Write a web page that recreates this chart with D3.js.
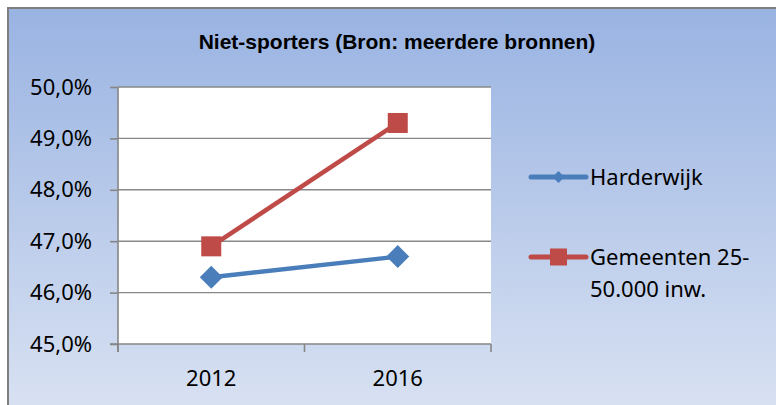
<!DOCTYPE html>
<html>
<head>
<meta charset="utf-8">
<script src="https://cdn.jsdelivr.net/npm/d3@7"></script>
<style>
  body { margin: 0; background: #fff; }
</style>
</head>
<body>
<div id="chart"></div>
<script>
(function() {
  var W = 776, H = 405;

  // data
  var years = ["2012", "2016"];
  var harderwijk = [0.463, 0.467];
  var gemeenten = [0.469, 0.493];
  var yTicks = [0.45, 0.46, 0.47, 0.48, 0.49, 0.50];
  var seriesNames = ["Harderwijk", "Gemeenten 25-|50.000 inw."];
  var seriesColors = ["#4a7ebb", "#be4b48"];

  var series = [
    { name: seriesNames[0], values: harderwijk, color: seriesColors[0], marker: "diamond" },
    { name: seriesNames[1], values: gemeenten, color: seriesColors[1], marker: "square" }
  ];

  var plot = { left: 118, right: 491, top: 87, bottom: 344 };

  var nl = d3.formatLocale({ decimal: ",", thousands: ".", grouping: [3], currency: ["€", ""] });
  var pct = nl.format(".1%");

  var svg = d3.select("#chart")
    .append("svg")
    .attr("width", W)
    .attr("height", H)
    .style("display", "block");

  var defs = svg.append("defs");
  var grad = defs.append("linearGradient")
    .attr("id", "bg")
    .attr("x1", 0).attr("y1", 0).attr("x2", 0).attr("y2", 1);
  grad.append("stop").attr("offset", "0%").attr("stop-color", "#99b3e2");
  grad.append("stop").attr("offset", "100%").attr("stop-color", "#dce4f3");

  // chart frame
  svg.append("rect")
    .attr("x", 8).attr("y", 8)
    .attr("width", W + 20).attr("height", H + 20)
    .attr("fill", "url(#bg)")
    .attr("stroke", "#7f7f7f")
    .attr("stroke-width", 2);

  // title
  svg.append("text")
    .attr("x", 397)
    .attr("y", 49)
    .attr("text-anchor", "middle")
    .style("font-family", "Liberation Sans, Arial, sans-serif")
    .style("font-weight", "bold")
    .style("font-size", "21px")
    .style("fill", "#000")
    .text("Niet-sporters (Bron: meerdere bronnen)");

  var x = d3.scaleBand().domain(years).range([plot.left, plot.right]).padding(0);
  var y = d3.scaleLinear().domain([0.45, 0.50]).range([plot.bottom, plot.top]);

  // plot area
  svg.append("rect")
    .attr("x", plot.left).attr("y", plot.top)
    .attr("width", plot.right - plot.left)
    .attr("height", plot.bottom - plot.top)
    .attr("fill", "#fff");

  // gridlines
  svg.append("g")
    .selectAll("line")
    .data(yTicks.slice(1))
    .enter().append("line")
    .attr("x1", plot.left).attr("x2", plot.right)
    .attr("y1", function(d) { return y(d); })
    .attr("y2", function(d) { return y(d); })
    .attr("stroke", "#888")
    .attr("stroke-width", 1.4);

  // y axis
  var yAxis = d3.axisLeft(y)
    .tickValues(yTicks)
    .tickFormat(pct)
    .tickSize(8)
    .tickPadding(18);
  var gy = svg.append("g")
    .attr("transform", "translate(" + plot.left + ",0)")
    .call(yAxis);
  gy.select(".domain").attr("stroke", "#868686").attr("stroke-width", 1.6)
    .attr("d", "M0," + plot.top + "V" + (plot.bottom + 8));
  gy.selectAll(".tick line").attr("stroke", "#868686").attr("stroke-width", 1.6);
  gy.selectAll("text")
    .style("font-family", "Noto Sans")
    .style("font-size", "22px")
    .style("fill", "#000");

  // x axis: labels centred in bands, ticks on band edges
  var xAxis = d3.axisBottom(x).tickSize(0).tickPadding(26);
  var gx = svg.append("g")
    .attr("transform", "translate(0," + plot.bottom + ")")
    .call(xAxis);
  gx.select(".domain").attr("stroke", "#868686").attr("stroke-width", 1.6)
    .attr("d", "M" + (plot.left - 8) + ",0H" + plot.right);
  gx.selectAll("text")
    .style("font-family", "Noto Sans")
    .style("font-size", "22px")
    .style("fill", "#000");
  var edges = years.map(function(d) { return x(d); }).concat([x.range()[1]]);
  gx.selectAll(".edge")
    .data(edges)
    .enter().append("line")
    .attr("class", "edge")
    .attr("x1", function(d) { return d; })
    .attr("x2", function(d) { return d; })
    .attr("y1", 0).attr("y2", 8)
    .attr("stroke", "#868686")
    .attr("stroke-width", 1.6);

  var cx = function(d, i) { return x(years[i]) + x.bandwidth() / 2; };
  var line = d3.line()
    .x(function(d, i) { return cx(d, i); })
    .y(function(d) { return y(d); });

  function drawMarker(g, type, color, size) {
    if (type === "square") {
      g.append("rect")
        .attr("x", -size / 2).attr("y", -size / 2)
        .attr("width", size).attr("height", size)
        .attr("fill", color);
    } else {
      var r = size / 2;
      g.append("path")
        .attr("d", "M0," + (-r) + "L" + r + ",0L0," + r + "L" + (-r) + ",0Z")
        .attr("fill", color);
    }
  }

  series.forEach(function(s) {
    svg.append("path")
      .datum(s.values)
      .attr("d", line)
      .attr("fill", "none")
      .attr("stroke", s.color)
      .attr("stroke-width", 4.5)
      .attr("stroke-linejoin", "round");

    svg.append("g")
      .selectAll("g")
      .data(s.values)
      .enter().append("g")
      .attr("transform", function(d, i) { return "translate(" + cx(d, i) + "," + y(d) + ")"; })
      .each(function() {
        drawMarker(d3.select(this), s.marker, s.color, s.marker === "square" ? 20 : 23);
      });
  });

  // legend
  var legendY = [177, 257];
  var legend = svg.append("g")
    .selectAll("g")
    .data(series)
    .enter().append("g")
    .attr("transform", function(d, i) { return "translate(531," + legendY[i] + ")"; });

  legend.append("line")
    .attr("x1", 0).attr("x2", 55)
    .attr("y1", 0).attr("y2", 0)
    .attr("stroke", function(d) { return d.color; })
    .attr("stroke-width", 5)
    .attr("stroke-linecap", "round");

  legend.each(function(d) {
    var g = d3.select(this).append("g").attr("transform", "translate(27.5,0)");
    drawMarker(g, d.marker, d.color, d.marker === "square" ? 17 : 12);
  });

  legend.append("text")
    .attr("x", 59)
    .attr("y", 8)
    .style("font-family", "Noto Sans")
    .style("font-size", "22px")
    .style("fill", "#000")
    .selectAll("tspan")
    .data(function(d) { return d.name.split("|"); })
    .enter().append("tspan")
    .attr("x", 59)
    .attr("dy", function(d, i) { return i === 0 ? 0 : 32; })
    .text(function(d) { return d; });
})();
</script>
</body>
</html>
